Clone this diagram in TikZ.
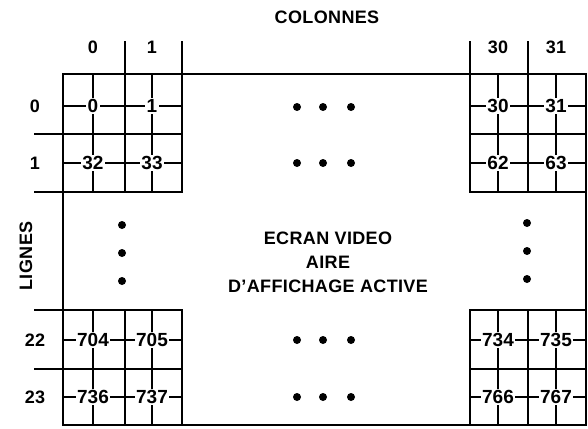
\documentclass[tikz,border=0pt]{standalone}
\usepackage{fontspec}
\setmainfont{Liberation Sans}
\newfontfamily\wideface[LetterSpace=2]{Liberation Sans}
\usetikzlibrary{calc}
\tikzstyle{grid}=[line width=1.5pt,line cap=rect]
\tikzstyle{cnum}=[inner sep=2pt,font=\fontsize{19}{24}\selectfont\bfseries]
\tikzstyle{tlabel}=[inner sep=0pt,font=\fontsize{18}{24}\selectfont\wideface\bfseries]

\begin{document}
\begin{tikzpicture}[x=1pt,y=-1pt]
\useasboundingbox (0,0) rectangle (588,428);
% frame and cell lines
\draw[grid] (63,74) rectangle (586,425);
\draw[grid] (125,42)--(125,192) (182,42)--(182,192) (35,134)--(182,134) (35,192)--(182,192);
\draw[grid] (125,310)--(125,425) (182,310)--(182,425) (35,310)--(182,310) (35,369)--(182,369);
\draw[grid] (470,42)--(470,192) (528,42)--(528,192) (470,134)--(586,134) (470,192)--(586,192);
\draw[grid] (470,310)--(470,425) (528,310)--(528,425) (470,310)--(586,310) (470,369)--(586,369);
% titles
\node[tlabel] (colonnes) at (327,17) {COLONNES};
\node[tlabel,rotate=90] (lignes) at (26,256) {LIGNES};
\node[tlabel,align=center] (ecran) at (328,262) {ECRAN VIDEO\\AIRE\\D’AFFICHAGE ACTIVE};
\node[tlabel] (col0) at (93,47) {0};
\node[tlabel] (col1) at (152,47) {1};
\node[tlabel] (col30) at (498,47) {30};
\node[tlabel] (col31) at (556,47) {31};
\node[tlabel] (row0) at (35,106) {0};
\node[tlabel] (row1) at (35,163) {1};
\node[tlabel] (row22) at (35,340) {22};
\node[tlabel] (row23) at (35,397) {23};
% cells
\node[cnum] (n0) at (93,106) {0};
\draw[grid] (n0)--(n0 |- 0,74) (n0)--(n0 |- 0,134) (n0)--(63,0 |- n0) (n0)--(125,0 |- n0);
\node[cnum] (n1) at (152,106) {1};
\draw[grid] (n1)--(n1 |- 0,74) (n1)--(n1 |- 0,134) (n1)--(125,0 |- n1) (n1)--(182,0 |- n1);
\node[cnum] (n32) at (93,163) {32};
\draw[grid] (n32)--(n32 |- 0,134) (n32)--(n32 |- 0,192) (n32)--(63,0 |- n32) (n32)--(125,0 |- n32);
\node[cnum] (n33) at (152,163) {33};
\draw[grid] (n33)--(n33 |- 0,134) (n33)--(n33 |- 0,192) (n33)--(125,0 |- n33) (n33)--(182,0 |- n33);
\node[cnum] (n30) at (498,106) {30};
\draw[grid] (n30)--(n30 |- 0,74) (n30)--(n30 |- 0,134) (n30)--(470,0 |- n30) (n30)--(528,0 |- n30);
\node[cnum] (n31) at (556,106) {31};
\draw[grid] (n31)--(n31 |- 0,74) (n31)--(n31 |- 0,134) (n31)--(528,0 |- n31) (n31)--(586,0 |- n31);
\node[cnum] (n62) at (498,163) {62};
\draw[grid] (n62)--(n62 |- 0,134) (n62)--(n62 |- 0,192) (n62)--(470,0 |- n62) (n62)--(528,0 |- n62);
\node[cnum] (n63) at (556,163) {63};
\draw[grid] (n63)--(n63 |- 0,134) (n63)--(n63 |- 0,192) (n63)--(528,0 |- n63) (n63)--(586,0 |- n63);
\node[cnum] (n704) at (93,340) {704};
\draw[grid] (n704)--(n704 |- 0,310) (n704)--(n704 |- 0,369) (n704)--(63,0 |- n704) (n704)--(125,0 |- n704);
\node[cnum] (n705) at (152,340) {705};
\draw[grid] (n705)--(n705 |- 0,310) (n705)--(n705 |- 0,369) (n705)--(125,0 |- n705) (n705)--(182,0 |- n705);
\node[cnum] (n736) at (93,397) {736};
\draw[grid] (n736)--(n736 |- 0,369) (n736)--(n736 |- 0,425) (n736)--(63,0 |- n736) (n736)--(125,0 |- n736);
\node[cnum] (n737) at (152,397) {737};
\draw[grid] (n737)--(n737 |- 0,369) (n737)--(n737 |- 0,425) (n737)--(125,0 |- n737) (n737)--(182,0 |- n737);
\node[cnum] (n734) at (498,340) {734};
\draw[grid] (n734)--(n734 |- 0,310) (n734)--(n734 |- 0,369) (n734)--(470,0 |- n734) (n734)--(528,0 |- n734);
\node[cnum] (n735) at (556,340) {735};
\draw[grid] (n735)--(n735 |- 0,310) (n735)--(n735 |- 0,369) (n735)--(528,0 |- n735) (n735)--(586,0 |- n735);
\node[cnum] (n766) at (498,397) {766};
\draw[grid] (n766)--(n766 |- 0,369) (n766)--(n766 |- 0,425) (n766)--(470,0 |- n766) (n766)--(528,0 |- n766);
\node[cnum] (n767) at (556,397) {767};
\draw[grid] (n767)--(n767 |- 0,369) (n767)--(n767 |- 0,425) (n767)--(528,0 |- n767) (n767)--(586,0 |- n767);
% dots
\fill (297,107) circle (4pt) (323,107) circle (4pt) (351,107) circle (4pt);
\fill (297,163) circle (4pt) (323,163) circle (4pt) (351,163) circle (4pt);
\fill (297,340) circle (4pt) (323,340) circle (4pt) (351,340) circle (4pt);
\fill (297,397) circle (4pt) (323,397) circle (4pt) (351,397) circle (4pt);
\fill (122,225) circle (4pt) (122,253) circle (4pt) (122,281) circle (4pt);
\fill (527,223) circle (4pt) (527,251) circle (4pt) (527,279) circle (4pt);
\end{tikzpicture}
\end{document}
